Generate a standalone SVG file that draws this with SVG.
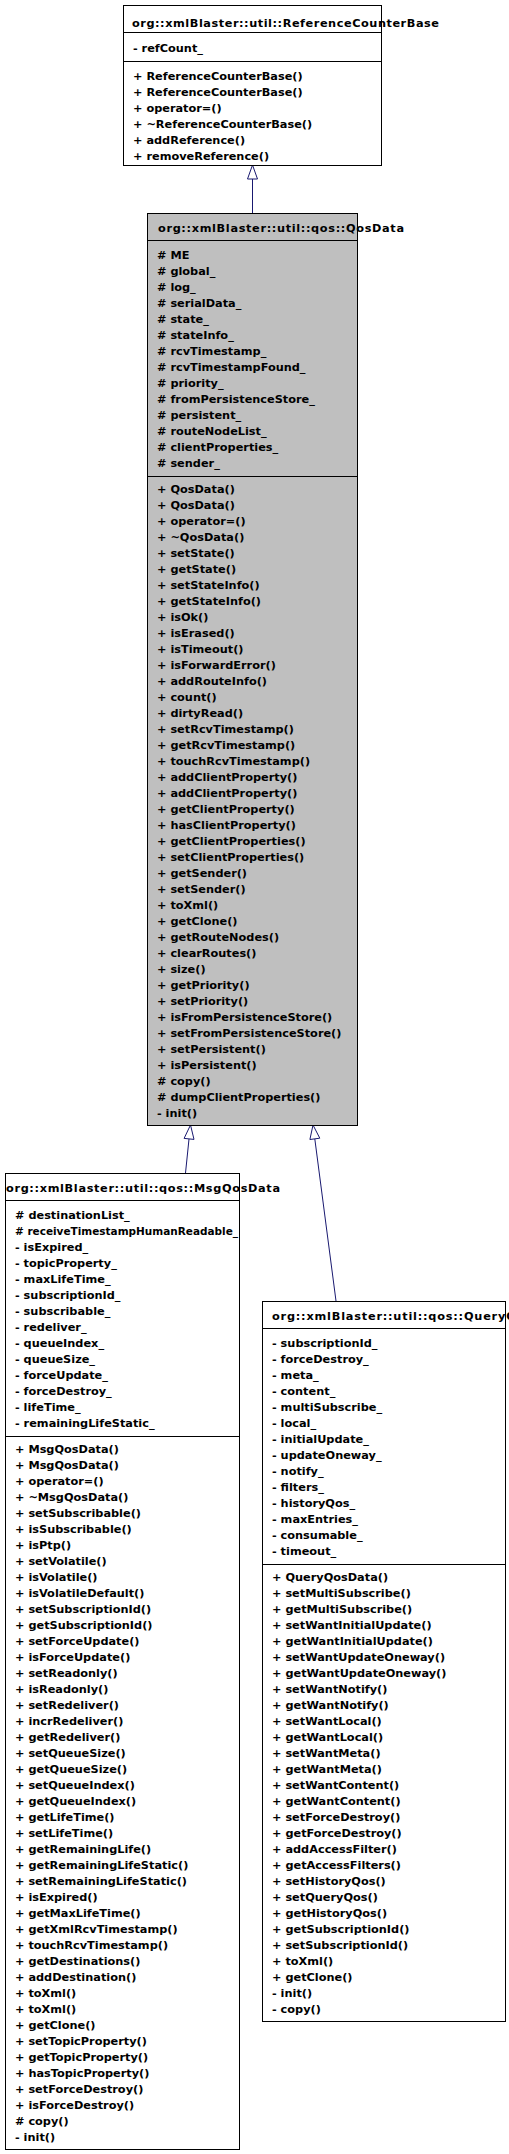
<svg xmlns="http://www.w3.org/2000/svg" width="509" height="2154" viewBox="0 0 509 2154">
<style>
.t{font-family:"DejaVu Sans",sans-serif;font-weight:bold;font-size:11.3px;fill:#000}
.box{fill:#fff;stroke:#000;stroke-width:1}
.hl{fill:#bfbfbf}
.sep{stroke:#000;stroke-width:1}
.edge{stroke:#191970;stroke-width:1;fill:none}
.head{fill:#fff;stroke:#191970;stroke-width:1}
</style>
<rect width="509" height="2154" fill="#fff"/>
<g id="edges">
<line class="edge" x1="252.5" y1="179" x2="252.5" y2="213"/>
<polygon class="head" points="252.5,165 257.5,179 247.5,179"/>
<line class="edge" x1="189" y1="1139" x2="185.5" y2="1173"/>
<polygon class="head" points="190.5,1125 194,1139.4 184.1,1138.4"/>
<line class="edge" x1="314.8" y1="1138.9" x2="336" y2="1301"/>
<polygon class="head" points="313,1125 319.8,1138.2 309.9,1139.5"/>
</g>
<g id="ReferenceCounterBase">
<rect class="box" x="123.5" y="5.5" width="258" height="160"/>
<line class="sep" x1="123" y1="32.5" x2="382" y2="32.5"/>
<line class="sep" x1="123" y1="61.5" x2="382" y2="61.5"/>
<text class="t" x="132" y="27" textLength="307" lengthAdjust="spacing">org::xmlBlaster::util::ReferenceCounterBase</text>
<text class="t" x="133" y="52">- refCount_</text>
<text class="t"><tspan x="133" y="80">+ ReferenceCounterBase()</tspan><tspan x="133" dy="16">+ ReferenceCounterBase()</tspan><tspan x="133" dy="16">+ operator=()</tspan><tspan x="133" dy="16">+ ~ReferenceCounterBase()</tspan><tspan x="133" dy="16">+ addReference()</tspan><tspan x="133" dy="16">+ removeReference()</tspan></text>
</g>
<g id="QosData">
<rect class="box hl" x="147.5" y="213.5" width="210" height="912"/>
<line class="sep" x1="147" y1="240.5" x2="358" y2="240.5"/>
<line class="sep" x1="147" y1="476.5" x2="358" y2="476.5"/>
<text class="t" x="158" y="232" textLength="246" lengthAdjust="spacing">org::xmlBlaster::util::qos::QosData</text>
<text class="t"><tspan x="157" y="259"># ME</tspan><tspan x="157" dy="16"># global_</tspan><tspan x="157" dy="16"># log_</tspan><tspan x="157" dy="16"># serialData_</tspan><tspan x="157" dy="16"># state_</tspan><tspan x="157" dy="16"># stateInfo_</tspan><tspan x="157" dy="16"># rcvTimestamp_</tspan><tspan x="157" dy="16"># rcvTimestampFound_</tspan><tspan x="157" dy="16"># priority_</tspan><tspan x="157" dy="16"># fromPersistenceStore_</tspan><tspan x="157" dy="16"># persistent_</tspan><tspan x="157" dy="16"># routeNodeList_</tspan><tspan x="157" dy="16"># clientProperties_</tspan><tspan x="157" dy="16"># sender_</tspan></text>
<text class="t"><tspan x="157" y="493">+ QosData()</tspan><tspan x="157" dy="16">+ QosData()</tspan><tspan x="157" dy="16">+ operator=()</tspan><tspan x="157" dy="16">+ ~QosData()</tspan><tspan x="157" dy="16">+ setState()</tspan><tspan x="157" dy="16">+ getState()</tspan><tspan x="157" dy="16">+ setStateInfo()</tspan><tspan x="157" dy="16">+ getStateInfo()</tspan><tspan x="157" dy="16">+ isOk()</tspan><tspan x="157" dy="16">+ isErased()</tspan><tspan x="157" dy="16">+ isTimeout()</tspan><tspan x="157" dy="16">+ isForwardError()</tspan><tspan x="157" dy="16">+ addRouteInfo()</tspan><tspan x="157" dy="16">+ count()</tspan><tspan x="157" dy="16">+ dirtyRead()</tspan><tspan x="157" dy="16">+ setRcvTimestamp()</tspan><tspan x="157" dy="16">+ getRcvTimestamp()</tspan><tspan x="157" dy="16">+ touchRcvTimestamp()</tspan><tspan x="157" dy="16">+ addClientProperty()</tspan><tspan x="157" dy="16">+ addClientProperty()</tspan><tspan x="157" dy="16">+ getClientProperty()</tspan><tspan x="157" dy="16">+ hasClientProperty()</tspan><tspan x="157" dy="16">+ getClientProperties()</tspan><tspan x="157" dy="16">+ setClientProperties()</tspan><tspan x="157" dy="16">+ getSender()</tspan><tspan x="157" dy="16">+ setSender()</tspan><tspan x="157" dy="16">+ toXml()</tspan><tspan x="157" dy="16">+ getClone()</tspan><tspan x="157" dy="16">+ getRouteNodes()</tspan><tspan x="157" dy="16">+ clearRoutes()</tspan><tspan x="157" dy="16">+ size()</tspan><tspan x="157" dy="16">+ getPriority()</tspan><tspan x="157" dy="16">+ setPriority()</tspan><tspan x="157" dy="16">+ isFromPersistenceStore()</tspan><tspan x="157" dy="16">+ setFromPersistenceStore()</tspan><tspan x="157" dy="16">+ setPersistent()</tspan><tspan x="157" dy="16">+ isPersistent()</tspan><tspan x="157" dy="16"># copy()</tspan><tspan x="157" dy="16"># dumpClientProperties()</tspan><tspan x="157" dy="16">- init()</tspan></text>
</g>
<g id="MsgQosData">
<rect class="box" x="5.5" y="1173.5" width="234" height="976"/>
<line class="sep" x1="5" y1="1200.5" x2="240" y2="1200.5"/>
<line class="sep" x1="5" y1="1436.5" x2="240" y2="1436.5"/>
<text class="t" x="6" y="1192" textLength="274" lengthAdjust="spacing">org::xmlBlaster::util::qos::MsgQosData</text>
<text class="t" x="15" y="1219"># destinationList_</text>
<text class="t" x="15" y="1235" textLength="223" lengthAdjust="spacingAndGlyphs"># receiveTimestampHumanReadable_</text>
<text class="t"><tspan x="15" y="1251">- isExpired_</tspan><tspan x="15" dy="16">- topicProperty_</tspan><tspan x="15" dy="16">- maxLifeTime_</tspan><tspan x="15" dy="16">- subscriptionId_</tspan><tspan x="15" dy="16">- subscribable_</tspan><tspan x="15" dy="16">- redeliver_</tspan><tspan x="15" dy="16">- queueIndex_</tspan><tspan x="15" dy="16">- queueSize_</tspan><tspan x="15" dy="16">- forceUpdate_</tspan><tspan x="15" dy="16">- forceDestroy_</tspan><tspan x="15" dy="16">- lifeTime_</tspan><tspan x="15" dy="16">- remainingLifeStatic_</tspan></text>
<text class="t"><tspan x="15" y="1453">+ MsgQosData()</tspan><tspan x="15" dy="16">+ MsgQosData()</tspan><tspan x="15" dy="16">+ operator=()</tspan><tspan x="15" dy="16">+ ~MsgQosData()</tspan><tspan x="15" dy="16">+ setSubscribable()</tspan><tspan x="15" dy="16">+ isSubscribable()</tspan><tspan x="15" dy="16">+ isPtp()</tspan><tspan x="15" dy="16">+ setVolatile()</tspan><tspan x="15" dy="16">+ isVolatile()</tspan><tspan x="15" dy="16">+ isVolatileDefault()</tspan><tspan x="15" dy="16">+ setSubscriptionId()</tspan><tspan x="15" dy="16">+ getSubscriptionId()</tspan><tspan x="15" dy="16">+ setForceUpdate()</tspan><tspan x="15" dy="16">+ isForceUpdate()</tspan><tspan x="15" dy="16">+ setReadonly()</tspan><tspan x="15" dy="16">+ isReadonly()</tspan><tspan x="15" dy="16">+ setRedeliver()</tspan><tspan x="15" dy="16">+ incrRedeliver()</tspan><tspan x="15" dy="16">+ getRedeliver()</tspan><tspan x="15" dy="16">+ setQueueSize()</tspan><tspan x="15" dy="16">+ getQueueSize()</tspan><tspan x="15" dy="16">+ setQueueIndex()</tspan><tspan x="15" dy="16">+ getQueueIndex()</tspan><tspan x="15" dy="16">+ getLifeTime()</tspan><tspan x="15" dy="16">+ setLifeTime()</tspan><tspan x="15" dy="16">+ getRemainingLife()</tspan><tspan x="15" dy="16">+ getRemainingLifeStatic()</tspan><tspan x="15" dy="16">+ setRemainingLifeStatic()</tspan><tspan x="15" dy="16">+ isExpired()</tspan><tspan x="15" dy="16">+ getMaxLifeTime()</tspan><tspan x="15" dy="16">+ getXmlRcvTimestamp()</tspan><tspan x="15" dy="16">+ touchRcvTimestamp()</tspan><tspan x="15" dy="16">+ getDestinations()</tspan><tspan x="15" dy="16">+ addDestination()</tspan><tspan x="15" dy="16">+ toXml()</tspan><tspan x="15" dy="16">+ toXml()</tspan><tspan x="15" dy="16">+ getClone()</tspan><tspan x="15" dy="16">+ setTopicProperty()</tspan><tspan x="15" dy="16">+ getTopicProperty()</tspan><tspan x="15" dy="16">+ hasTopicProperty()</tspan><tspan x="15" dy="16">+ setForceDestroy()</tspan><tspan x="15" dy="16">+ isForceDestroy()</tspan><tspan x="15" dy="16"># copy()</tspan><tspan x="15" dy="16">- init()</tspan></text>
</g>
<g id="QueryQosData">
<rect class="box" x="262.5" y="1301.5" width="243" height="720"/>
<line class="sep" x1="262" y1="1328.5" x2="506" y2="1328.5"/>
<line class="sep" x1="262" y1="1564.5" x2="506" y2="1564.5"/>
<text class="t" x="272" y="1320" textLength="293" lengthAdjust="spacing">org::xmlBlaster::util::qos::QueryQosData</text>
<text class="t"><tspan x="272" y="1347">- subscriptionId_</tspan><tspan x="272" dy="16">- forceDestroy_</tspan><tspan x="272" dy="16">- meta_</tspan><tspan x="272" dy="16">- content_</tspan><tspan x="272" dy="16">- multiSubscribe_</tspan><tspan x="272" dy="16">- local_</tspan><tspan x="272" dy="16">- initialUpdate_</tspan><tspan x="272" dy="16">- updateOneway_</tspan><tspan x="272" dy="16">- notify_</tspan><tspan x="272" dy="16">- filters_</tspan><tspan x="272" dy="16">- historyQos_</tspan><tspan x="272" dy="16">- maxEntries_</tspan><tspan x="272" dy="16">- consumable_</tspan><tspan x="272" dy="16">- timeout_</tspan></text>
<text class="t"><tspan x="272" y="1581">+ QueryQosData()</tspan><tspan x="272" dy="16">+ setMultiSubscribe()</tspan><tspan x="272" dy="16">+ getMultiSubscribe()</tspan><tspan x="272" dy="16">+ setWantInitialUpdate()</tspan><tspan x="272" dy="16">+ getWantInitialUpdate()</tspan><tspan x="272" dy="16">+ setWantUpdateOneway()</tspan><tspan x="272" dy="16">+ getWantUpdateOneway()</tspan><tspan x="272" dy="16">+ setWantNotify()</tspan><tspan x="272" dy="16">+ getWantNotify()</tspan><tspan x="272" dy="16">+ setWantLocal()</tspan><tspan x="272" dy="16">+ getWantLocal()</tspan><tspan x="272" dy="16">+ setWantMeta()</tspan><tspan x="272" dy="16">+ getWantMeta()</tspan><tspan x="272" dy="16">+ setWantContent()</tspan><tspan x="272" dy="16">+ getWantContent()</tspan><tspan x="272" dy="16">+ setForceDestroy()</tspan><tspan x="272" dy="16">+ getForceDestroy()</tspan><tspan x="272" dy="16">+ addAccessFilter()</tspan><tspan x="272" dy="16">+ getAccessFilters()</tspan><tspan x="272" dy="16">+ setHistoryQos()</tspan><tspan x="272" dy="16">+ setQueryQos()</tspan><tspan x="272" dy="16">+ getHistoryQos()</tspan><tspan x="272" dy="16">+ getSubscriptionId()</tspan><tspan x="272" dy="16">+ setSubscriptionId()</tspan><tspan x="272" dy="16">+ toXml()</tspan><tspan x="272" dy="16">+ getClone()</tspan><tspan x="272" dy="16">- init()</tspan><tspan x="272" dy="16">- copy()</tspan></text>
</g>
</svg>
